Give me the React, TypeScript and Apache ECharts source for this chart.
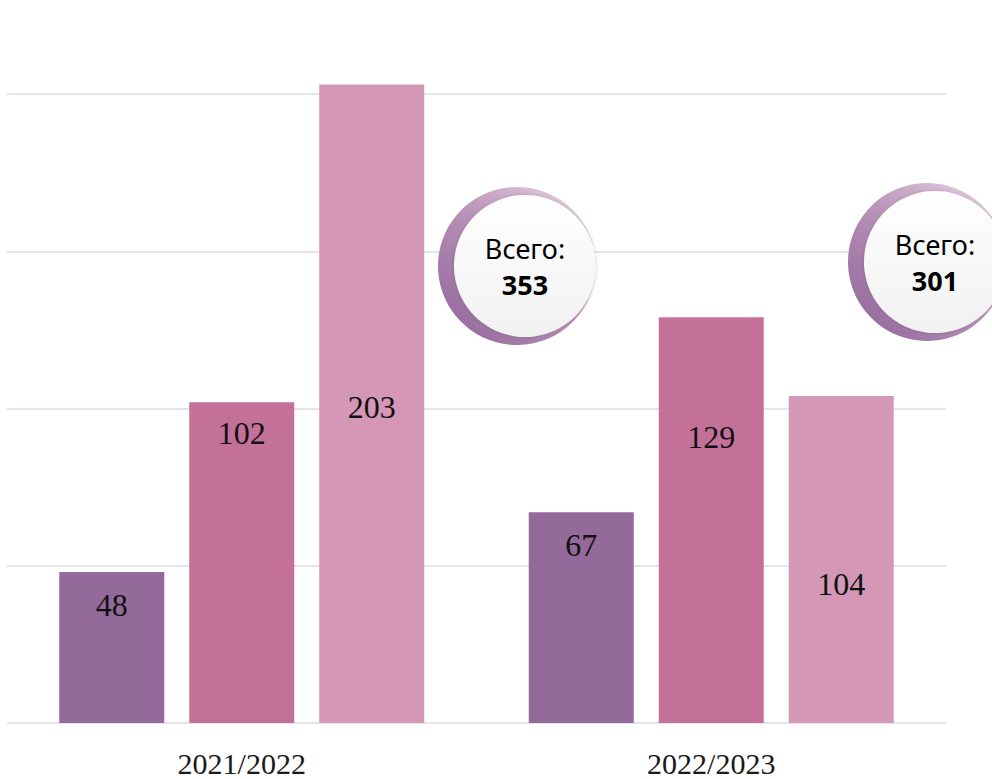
import React, { useEffect, useRef } from "react";
import * as echarts from "echarts";

const categories = ["2021/2022", "2022/2023"];
const seriesA = [48, 67];
const seriesB = [102, 129];
const seriesC = [203, 104];
const totals = [353, 301];
const totalLabel = "Всего:";
const colors = ["#946A9B", "#C4719A", "#D497B6"];
// vertical offsets of value labels from bar tops (px), as placed in the reference
const labelOffsetsA = [33, 33];
const labelOffsetsB = [31, 120];
const labelOffsetsC = [322, 188];

export default function App() {
  const ref = useRef<HTMLDivElement>(null);
  useEffect(() => {
    if (!ref.current) return;
    const chart = echarts.init(ref.current, null, { renderer: "svg" });

    const mkSeries = (data: number[], offs: number[], color: string) => ({
      type: "bar",
      clip: false,
      barWidth: 105,
      barGap: "23.8%",
      itemStyle: { color },
      data: data.map((v, i) => ({
        value: v,
        label: {
          show: true,
          position: ["50%", offs[i]],
          align: "center",
          verticalAlign: "middle",
          fontFamily: "Liberation Serif",
          fontSize: 32,
          color: "#111111",
        },
      })),
    });

    const bubble = (cx: number, cy: number, total: number) => ({
      type: "group",
      z: 100,
      children: [
        {
          type: "circle",
          z: 100,
          shape: { cx: cx - 8, cy, r: 79 },
          style: {
            fill: new echarts.graphic.LinearGradient(1, 0, 0, 1, [
              { offset: 0, color: "#EEDDE8" },
              { offset: 0.5, color: "#B892B8" },
              { offset: 1, color: "#8C6196" },
            ]),
          },
        },
        {
          type: "circle",
          z: 101,
          shape: { cx, cy, r: 71 },
          style: {
            fill: new echarts.graphic.LinearGradient(0, 0, 0, 1, [
              { offset: 0, color: "#FFFFFF" },
              { offset: 1, color: "#F1F1F1" },
            ]),
            shadowBlur: 4,
            shadowColor: "rgba(0,0,0,0.15)",
          },
        },
        {
          type: "text",
          z: 102,
          style: {
            x: cx,
            y: cy - 18,
            text: totalLabel,
            align: "center",
            verticalAlign: "middle",
            fontFamily: "Noto Sans",
            fontSize: 27,
            fill: "#000000",
          },
        },
        {
          type: "text",
          z: 102,
          style: {
            x: cx,
            y: cy + 18,
            text: String(total),
            align: "center",
            verticalAlign: "middle",
            fontFamily: "Noto Sans",
            fontWeight: "bold",
            fontSize: 27,
            fill: "#000000",
          },
        },
      ],
    });

    chart.setOption({
      animation: false,
      grid: { left: 7, right: 46, top: 94, bottom: 56, containLabel: false },
      xAxis: {
        type: "category",
        data: categories,
        axisLine: { show: false },
        axisTick: { show: false },
        axisLabel: {
          margin: 25,
          fontFamily: "Liberation Serif",
          fontSize: 30,
          lineHeight: 30,
          color: "#1a1a1a",
        },
      },
      yAxis: {
        type: "value",
        min: 0,
        max: 200,
        interval: 50,
        axisLabel: { show: false },
        axisLine: { show: false },
        axisTick: { show: false },
        splitLine: { lineStyle: { color: "#E2E5EC", width: 2 } },
      },
      series: [
        mkSeries(seriesA, labelOffsetsA, colors[0]),
        mkSeries(seriesB, labelOffsetsB, colors[1]),
        mkSeries(seriesC, labelOffsetsC, colors[2]),
      ],
      graphic: [bubble(525, 266, totals[0]), bubble(935, 262, totals[1])],
    });

    return () => chart.dispose();
  }, []);

  return (
    <div
      ref={ref}
      style={{ position: "absolute", left: 0, top: 0, width: 992, height: 779 }}
    />
  );
}
